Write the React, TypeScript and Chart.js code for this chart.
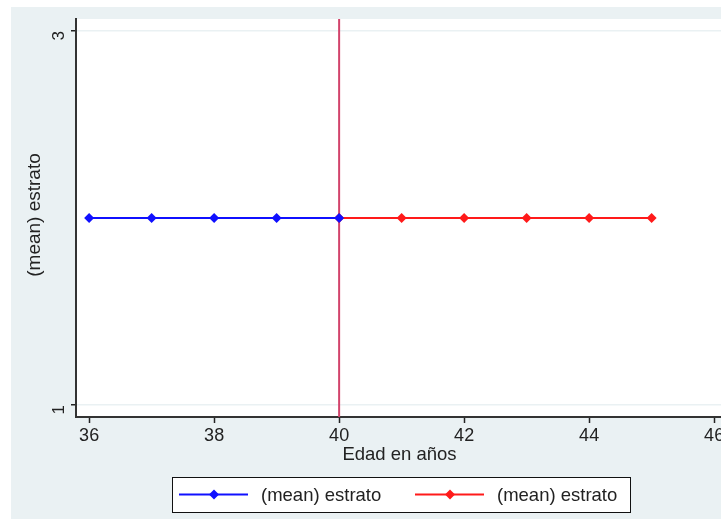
import React, { useEffect, useRef } from "react";
import { Chart, registerables } from "chart.js";

Chart.register(...registerables);

// ---- data ----
const edadAntes = [36, 37, 38, 39, 40];
const estratoAntes = [2, 2, 2, 2, 2];
const edadDespues = [40, 41, 42, 43, 44, 45];
const estratoDespues = [2, 2, 2, 2, 2, 2];
const xTicks = [36, 38, 40, 42, 44, 46];
const yTicks = [1, 3];
const corteEdad = 40;
const serieLabels = ["(mean) estrato", "(mean) estrato"];
const xTitle = "Edad en años";
const yTitle = "(mean) estrato";

const BG = "#eaf1f3";
const BLUE = "#1010ff";
const RED = "#ff1a1a";
const CUT = "#d2436b";
const TICK_FONT = "'Liberation Sans Narrow', 'Liberation Sans', Arial, sans-serif";
const TEXT_FONT = "'Liberation Sans', Arial, sans-serif";

const bgPlugin = {
  id: "stataBg",
  beforeDraw(chart: any) {
    const { ctx, width, height, chartArea } = chart;
    ctx.save();
    ctx.fillStyle = "#ffffff";
    ctx.fillRect(0, 0, width, height);
    ctx.fillStyle = BG;
    ctx.fillRect(11, 7, width - 11, height - 7);
    ctx.fillStyle = "#ffffff";
    ctx.fillRect(chartArea.left, chartArea.top, chartArea.right - chartArea.left, chartArea.bottom - chartArea.top);
    ctx.restore();
  },
};

const overlayPlugin = {
  id: "stataOverlay",
  beforeDatasetsDraw(chart: any) {
    const { ctx, chartArea, scales } = chart;
    const x = scales.x.getPixelForValue(corteEdad);
    ctx.save();
    ctx.strokeStyle = CUT;
    ctx.lineWidth = 2;
    ctx.beginPath();
    ctx.moveTo(x, chartArea.top);
    ctx.lineTo(x, chartArea.bottom);
    ctx.stroke();
    ctx.restore();
  },
  afterDraw(chart: any) {
    const { ctx, chartArea } = chart;
    ctx.save();
    // axis titles
    ctx.fillStyle = "#222";
    ctx.font = `18.5px ${TEXT_FONT}`;
    ctx.textAlign = "center";
    ctx.textBaseline = "middle";
    ctx.fillText(xTitle, (chartArea.left + chartArea.right) / 2 + 1, 455);
    ctx.save();
    ctx.translate(35, (chartArea.top + chartArea.bottom) / 2 - 3);
    ctx.rotate(-Math.PI / 2);
    ctx.font = `19px ${TEXT_FONT}`;
    ctx.fillText(yTitle, 0, 0);
    ctx.restore();

    // legend
    const bx = 172, by = 477, bw = 458, bh = 35;
    ctx.fillStyle = "#ffffff";
    ctx.fillRect(bx, by, bw, bh);
    ctx.strokeStyle = "#111";
    ctx.lineWidth = 1;
    ctx.strokeRect(bx + 0.5, by + 0.5, bw, bh);
    const items = chart.data.datasets.map((d: any, i: number) => ({
      color: d.borderColor,
      label: serieLabels[i],
      x0: i === 0 ? 179 : 415,
    }));
    const cy = by + 17.5;
    ctx.font = `18.5px ${TEXT_FONT}`;
    ctx.textAlign = "left";
    items.forEach((it: any) => {
      ctx.strokeStyle = it.color;
      ctx.lineWidth = 2;
      ctx.beginPath();
      ctx.moveTo(it.x0, cy);
      ctx.lineTo(it.x0 + 69, cy);
      ctx.stroke();
      const dx = it.x0 + 35;
      ctx.fillStyle = it.color;
      ctx.beginPath();
      ctx.moveTo(dx, cy - 5);
      ctx.lineTo(dx + 5, cy);
      ctx.lineTo(dx, cy + 5);
      ctx.lineTo(dx - 5, cy);
      ctx.closePath();
      ctx.fill();
      ctx.fillStyle = "#222";
      ctx.fillText(it.label, it.x0 + 82, cy + 1);
    });
    ctx.restore();
  },
};

export default function App() {
  const ref = useRef<HTMLCanvasElement | null>(null);
  useEffect(() => {
    document.body.style.margin = "0";
    const canvas = ref.current!;
    const chart = new Chart(canvas, {
      type: "line",
      data: {
        datasets: [
          {
            label: serieLabels[0],
            data: edadAntes.map((e, i) => ({ x: e, y: estratoAntes[i] })),
            borderColor: BLUE,
            backgroundColor: BLUE,
            borderWidth: 2,
            pointStyle: "rectRot",
            pointRadius: 5,
            pointBorderWidth: 0,
            tension: 0,
          },
          {
            label: serieLabels[1],
            data: edadDespues.map((e, i) => ({ x: e, y: estratoDespues[i] })),
            borderColor: RED,
            backgroundColor: RED,
            borderWidth: 2,
            pointStyle: "rectRot",
            pointRadius: 5,
            pointBorderWidth: 0,
            tension: 0,
          },
        ],
      },
      options: {
        animation: false,
        responsive: false,
        devicePixelRatio: 1,
        layout: { autoPadding: false, padding: { top: 19, left: 0, right: 0, bottom: 0 } },
        plugins: { legend: { display: false }, tooltip: { enabled: false } },
        scales: {
          x: {
            type: "linear",
            min: 35.79,
            max: 46.11,
            afterBuildTicks: (s: any) => {
              s.ticks = xTicks.map((v) => ({ value: v }));
            },
            afterFit: (s: any) => {
              s.height = 102;
              s.paddingLeft = 0;
              s.paddingRight = 0;
            },
            grid: { drawOnChartArea: false, drawTicks: true, tickLength: 6, tickColor: "#222", tickWidth: 1.5 },
            border: { color: "#333", width: 2 },
            ticks: {
              color: "#222",
              font: { family: TICK_FONT, size: 18 },
              padding: 2,
              maxRotation: 0,
              minRotation: 0,
              callback: (v: any) => String(v),
            },
          },
          y: {
            type: "linear",
            min: 0.936,
            max: 3.064,
            afterBuildTicks: (s: any) => {
              s.ticks = yTicks.map((v) => ({ value: v }));
            },
            afterFit: (s: any) => {
              s.width = 76;
              s.paddingTop = 0;
              s.paddingBottom = 0;
            },
            grid: { color: BG, lineWidth: 1.5, drawTicks: true, tickLength: 5, tickColor: "#222", tickWidth: 1.5 },
            border: { color: "#333", width: 2 },
            ticks: {
              color: "#222",
              font: { family: TICK_FONT, size: 17 },
              padding: 12,
              minRotation: 90,
              maxRotation: 90,
              callback: (v: any) => String(v),
            },
          },
        },
      },
      plugins: [bgPlugin, overlayPlugin],
    } as any);
    return () => chart.destroy();
  }, []);
  return <canvas ref={ref} width={721} height={519} style={{ display: "block" }} />;
}
